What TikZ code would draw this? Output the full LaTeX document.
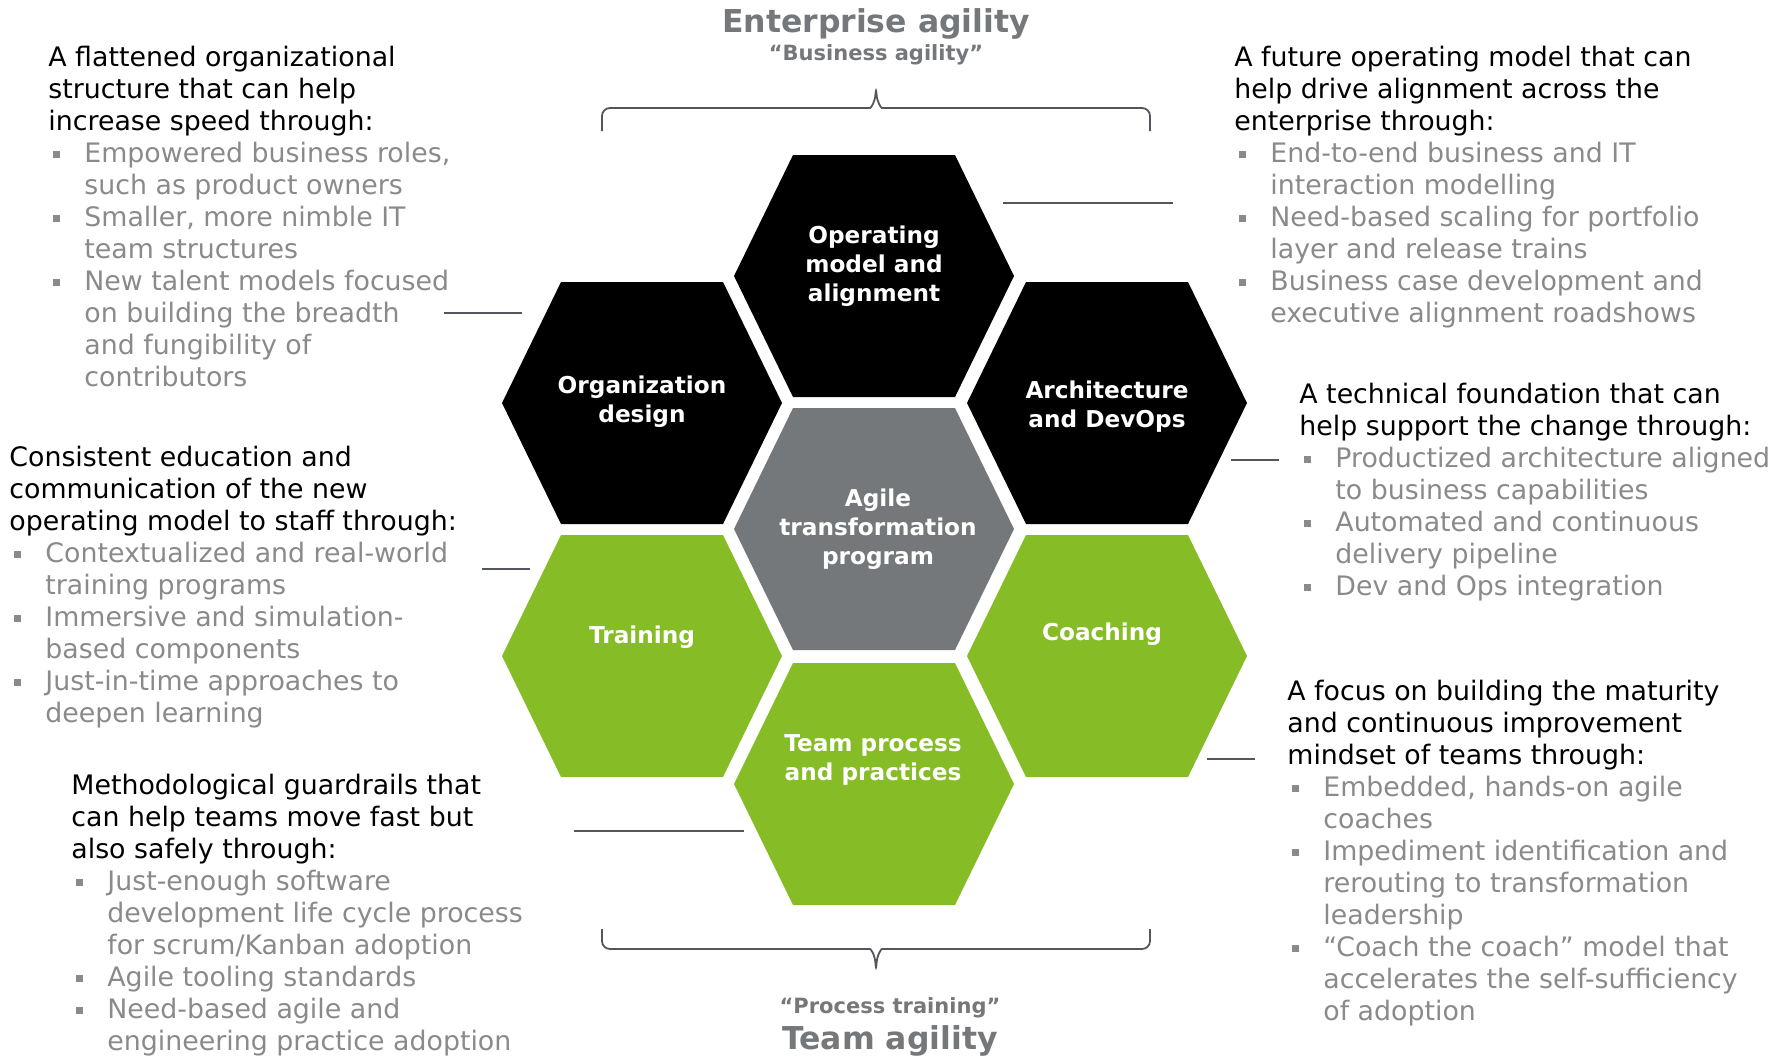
\documentclass[tikz,border=0pt]{standalone}
\usepackage{fontspec}
\setmainfont{DejaVu Sans}
\usetikzlibrary{calc}
\definecolor{agilegreen}{HTML}{86BC25}
\definecolor{coregray}{HTML}{75787B}
\definecolor{txtgray}{HTML}{8A8A8A}
\definecolor{linegray}{HTML}{53565A}
\newcommand\bul[1]{\makebox[18pt][l]{\hspace{2.5pt}\textcolor{txtgray}{\rule[2.4pt]{3.5pt}{3.5pt}}}\textcolor{txtgray}{#1}}
\newcommand\cont[1]{\hspace*{18pt}\textcolor{txtgray}{#1}}
\newcommand\hexcell[5]{%
  \fill[#3] (#2) ++(-140,0) -- ++(59,-121) -- ++(162,0) -- ++(59,121) -- ++(-59,121) -- ++(-162,0) -- cycle;
  \node[hextext] (#1) at ($(#2)+(#4)$) {#5};}

\begin{document}
\begin{tikzpicture}[x=0.5pt, y=-0.5pt,
  side/.style={anchor=north west, align=left, inner sep=0pt, font=\fontsize{13.4pt}{16pt}\selectfont},
  hextext/.style={align=center, text=white, inner sep=0pt, font=\fontsize{11.6pt}{14.5pt}\selectfont\bfseries},
  leader/.style={linegray, line width=1pt},
  bracket/.style={linegray, line width=0.9pt, rounded corners=4pt},
  head/.style={text=coregray, font=\fontsize{15.75pt}{18pt}\selectfont\bfseries},
  subhead/.style={text=coregray, font=\fontsize{10.5pt}{12pt}\selectfont\bfseries}]

\useasboundingbox (0,0) rectangle (1787,1057);

% titles and brackets
\node[head] (enterprise) at (876,24) {Enterprise agility};
\node[subhead] (business) at (876,55) {“Business agility”};
\draw[bracket] (602,131) -- (602,108) -- (862,108) .. controls (871,108) and (875,102) .. (876,86)
  .. controls (877,102) and (881,108) .. (890,108) -- (1150,108) -- (1150,131);
\draw[bracket] (602,929) -- (602,949) -- (862,949) .. controls (871,949) and (875,955) .. (876,972)
  .. controls (877,955) and (881,949) .. (890,949) -- (1150,949) -- (1150,929);
\node[subhead] (process) at (890,1008) {“Process training”};
\node[head] (team) at (890,1041) {Team agility};

% honeycomb
\hexcell{om}{874,276}{black}{0,-10}{Operating\\model and\\alignment}
\hexcell{od}{642,403}{black}{0,-1}{Organization\\design}
\hexcell{ad}{1107,403}{black}{0,4}{Architecture\\and DevOps}
\hexcell{core}{874,529}{coregray}{4,0}{Agile\\transformation\\program}
\hexcell{tr}{642,656}{agilegreen}{0,-19}{Training}
\hexcell{co}{1107,656}{agilegreen}{-5,-22}{Coaching}
\hexcell{tp}{874,784}{agilegreen}{-1,-24}{Team process\\and practices}

% leader lines
\coordinate (odA) at (444,313);  \coordinate (odB) at (522,313);
\coordinate (omA) at (1003,203); \coordinate (omB) at (1173,203);
\coordinate (adA) at (1231,460); \coordinate (adB) at (1279,460);
\coordinate (trA) at (482,569);  \coordinate (trB) at (530,569);
\coordinate (tpA) at (574,831);  \coordinate (tpB) at (744,831);
\coordinate (coA) at (1207,759); \coordinate (coB) at (1255,759);
\draw[leader] (odA) -- (odB);
\draw[leader] (omA) -- (omB);
\draw[leader] (adA) -- (adB);
\draw[leader] (trA) -- (trB);
\draw[leader] (tpA) -- (tpB);
\draw[leader] (coA) -- (coB);

% side texts
\node[side] (odtext) at (48,44) {\strut A flattened organizational\\structure that can help\\increase speed through:\\
  \bul{Empowered business roles,}\\\cont{such as product owners}\\
  \bul{Smaller, more nimble IT}\\\cont{team structures}\\
  \bul{New talent models focused}\\\cont{on building the breadth}\\\cont{and fungibility of}\\\cont{contributors}};
\node[side] (omtext) at (1234,44) {\strut A future operating model that can\\help drive alignment across the\\enterprise through:\\
  \bul{End-to-end business and IT}\\\cont{interaction modelling}\\
  \bul{Need-based scaling for portfolio}\\\cont{layer and release trains}\\
  \bul{Business case development and}\\\cont{executive alignment roadshows}};
\node[side] (adtext) at (1299,381) {\strut A technical foundation that can\\help support the change through:\\
  \bul{Productized architecture aligned}\\\cont{to business capabilities}\\
  \bul{Automated and continuous}\\\cont{delivery pipeline}\\
  \bul{Dev and Ops integration}};
\node[side] (trtext) at (9,444) {\strut Consistent education and\\communication of the new\\operating model to staff through:\\
  \bul{Contextualized and real-world}\\\cont{training programs}\\
  \bul{Immersive and simulation-}\\\cont{based components}\\
  \bul{Just-in-time approaches to}\\\cont{deepen learning}};
\node[side] (tptext) at (71,772) {\strut Methodological guardrails that\\can help teams move fast but\\also safely through:\\
  \bul{Just-enough software}\\\cont{development life cycle process}\\\cont{for scrum/Kanban adoption}\\
  \bul{Agile tooling standards}\\
  \bul{Need-based agile and}\\\cont{engineering practice adoption}};
\node[side] (cotext) at (1287,678) {\strut A focus on building the maturity\\and continuous improvement\\mindset of teams through:\\
  \bul{Embedded, hands-on agile}\\\cont{coaches}\\
  \bul{Impediment identification and}\\\cont{rerouting to transformation}\\\cont{leadership}\\
  \bul{“Coach the coach” model that}\\\cont{accelerates the self-sufficiency}\\\cont{of adoption}};

\end{tikzpicture}
\end{document}
